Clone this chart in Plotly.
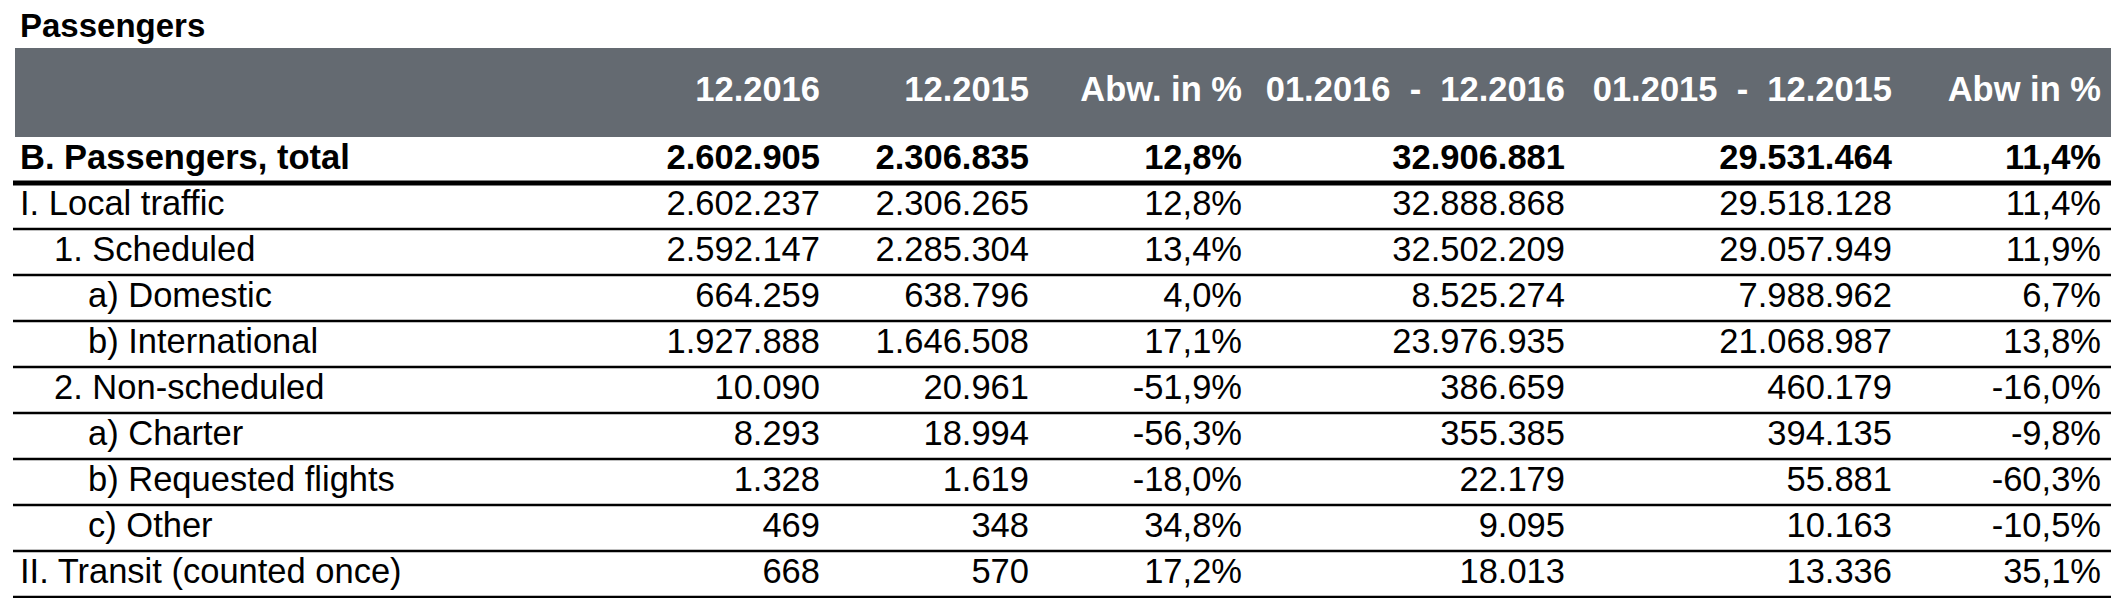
import plotly.graph_objects as go

TITLE = "Passengers"
HEADERS = ["12.2016", "12.2015", "Abw. in %",
           "01.2016  -  12.2016", "01.2015  -  12.2015", "Abw in %"]

ROW_LABELS = [
    "B. Passengers, total",
    "I. Local traffic",
    "1. Scheduled",
    "a) Domestic",
    "b) International",
    "2. Non-scheduled",
    "a) Charter",
    "b) Requested flights",
    "c) Other",
    "II. Transit (counted once)",
]
LEVELS = [0, 0, 1, 2, 2, 1, 2, 2, 2, 0]

DEC_2016 = [2602905, 2602237, 2592147, 664259, 1927888, 10090, 8293, 1328, 469, 668]
DEC_2015 = [2306835, 2306265, 2285304, 638796, 1646508, 20961, 18994, 1619, 348, 570]
DEC_CHG = [12.8, 12.8, 13.4, 4.0, 17.1, -51.9, -56.3, -18.0, 34.8, 17.2]
YTD_2016 = [32906881, 32888868, 32502209, 8525274, 23976935, 386659, 355385, 22179, 9095, 18013]
YTD_2015 = [29531464, 29518128, 29057949, 7988962, 21068987, 460179, 394135, 55881, 10163, 13336]
YTD_CHG = [11.4, 11.4, 11.9, 6.7, 13.8, -16.0, -9.8, -60.3, -10.5, 35.1]

# layout (pixel units; axes map 1:1 onto the 2119x598 page)
W, H = 2119, 598
COL_RIGHT = [812, 1021, 1234, 1557, 1884, 2093]
LEFT = 12
INDENT = 34
BAND = (7, 2104, 40, 129)
TITLE_Y = 21
ROW0 = 152
ROW_H = 46
GRAY = "#646a71"
FONT = "Liberation Sans, Arial, Helvetica, sans-serif"
FS = 34.5


def fmt_int(v):
    return f"{v:,}".replace(",", ".")


def fmt_pct(v):
    return f"{v:.1f}".replace(".", ",") + "%"


cols = [
    [fmt_int(v) for v in DEC_2016],
    [fmt_int(v) for v in DEC_2015],
    [fmt_pct(v) for v in DEC_CHG],
    [fmt_int(v) for v in YTD_2016],
    [fmt_int(v) for v in YTD_2015],
    [fmt_pct(v) for v in YTD_CHG],
]

n = len(ROW_LABELS)
ys = [ROW0 + i * ROW_H for i in range(n)]
header_y = (BAND[2] + BAND[3]) / 2


def text_trace(x, y, text, pos, color="black", size=FS):
    # marker size 0 -> no extra offset between anchor point and text
    return go.Scatter(x=x, y=y, text=text, mode="text", textposition=pos,
                      marker=dict(size=0), cliponaxis=False,
                      textfont=dict(family=FONT, size=size, color=color),
                      hoverinfo="skip")


fig = go.Figure()

# header band
fig.add_shape(type="rect", x0=BAND[0], x1=BAND[1], y0=BAND[2], y1=BAND[3],
              fillcolor=GRAY, line_width=0, layer="below")

# rules: thick under the total row, thin under each other row
fig.add_shape(type="line", x0=5, x1=BAND[1], y0=ys[0] + ROW_H / 2, y1=ys[0] + ROW_H / 2,
              line=dict(color="black", width=5))
for y in ys[1:]:
    fig.add_shape(type="line", x0=5, x1=BAND[1], y0=y + ROW_H / 2, y1=y + ROW_H / 2,
                  line=dict(color="black", width=2.5))

# title
fig.add_trace(text_trace([LEFT], [TITLE_Y], [f"<b>{TITLE}</b>"], "middle right", size=33))

# header texts
fig.add_trace(text_trace(COL_RIGHT, [header_y] * len(HEADERS),
                         [f"<b>{h}</b>" for h in HEADERS], "middle left", color="white"))

# row labels
fig.add_trace(text_trace([LEFT + INDENT * lv for lv in LEVELS], ys,
                         [f"<b>{t}</b>" if i == 0 else t for i, t in enumerate(ROW_LABELS)],
                         "middle right"))

# value columns
for xr, vals in zip(COL_RIGHT, cols):
    fig.add_trace(text_trace([xr] * n, ys,
                             [f"<b>{t}</b>" if i == 0 else t for i, t in enumerate(vals)],
                             "middle left"))

fig.update_xaxes(range=[0, W], visible=False, fixedrange=True)
fig.update_yaxes(range=[H, 0], visible=False, fixedrange=True)
fig.update_layout(
    width=W, height=H,
    margin=dict(l=0, r=0, t=0, b=0),
    paper_bgcolor="white", plot_bgcolor="white",
    showlegend=False,
)

fig.write_html("out.html")
